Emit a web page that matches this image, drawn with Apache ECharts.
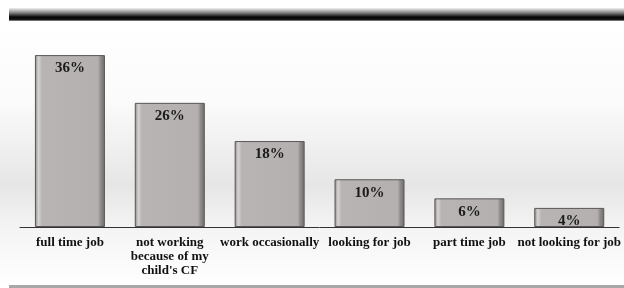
<!DOCTYPE html>
<html>
<head>
<meta charset="utf-8">
<script src="https://cdn.jsdelivr.net/npm/echarts@6/dist/echarts.min.js"></script>
<style>
  html, body { margin: 0; padding: 0; background: #fff; }
  #chart { width: 624px; height: 288px; }
</style>
</head>
<body>
<div id="chart"></div>
<script>
const categories = [
  "full time job",
  "not working\nbecause of my\nchild's CF",
  "work occasionally",
  "looking for job",
  "part time job",
  "not looking for job"
];
const percents = [36, 26, 18, 10, 6, 4];

const chart = echarts.init(document.getElementById("chart"));
const serif = "'Liberation Serif', 'DejaVu Serif', serif";

chart.setOption({
  animation: false,
  backgroundColor: "#fff",
  graphic: [
    // soft grey shading behind the bars
    {
      type: "rect",
      z: -10,
      shape: { x: 0, y: 22, width: 624, height: 264 },
      style: {
        fill: new echarts.graphic.LinearGradient(0, 0, 0, 1, [
          { offset: 0, color: "#ffffff" },
          { offset: 0.3, color: "#fbfbfb" },
          { offset: 0.62, color: "#e6e6e6" },
          { offset: 0.78, color: "#f4f4f4" },
          { offset: 1, color: "#ffffff" }
        ])
      }
    },
    // black bar at the top
    {
      type: "rect",
      shape: { x: 9, y: 8, width: 615, height: 13 },
      style: {
        fill: new echarts.graphic.LinearGradient(0, 0, 0, 1, [
          { offset: 0, color: "#f0f0f0" },
          { offset: 0.35, color: "#888888" },
          { offset: 0.7, color: "#050505" },
          { offset: 0.88, color: "#111111" },
          { offset: 1, color: "#9a9a9a" }
        ])
      }
    },
    // thin grey line at the bottom
    {
      type: "rect",
      shape: { x: 9, y: 285, width: 615, height: 3 },
      style: { fill: "#a8a8a8" }
    }
  ],
  grid: { left: 20, right: 4, top: 36, bottom: 61 },
  xAxis: {
    type: "category",
    data: categories,
    axisLine: { lineStyle: { color: "#333", width: 1 } },
    axisTick: { show: false },
    axisLabel: {
      interval: 0,
      margin: 9,
      color: "#111",
      fontFamily: serif,
      fontWeight: "bold",
      fontSize: 13,
      lineHeight: 14
    }
  },
  yAxis: {
    type: "value",
    min: 0,
    max: 40,
    show: false
  },
  series: [
    {
      type: "bar",
      data: percents,
      barWidth: 70,
      itemStyle: {
        color: new echarts.graphic.LinearGradient(1, 0, 0, 0, [
          { offset: 0, color: "#6e6a6a" },
          { offset: 0.06, color: "#8f8b8b" },
          { offset: 0.1, color: "#b4b0b0" },
          { offset: 0.9, color: "#b8b4b4" },
          { offset: 0.95, color: "#d6d3d3" },
          { offset: 1, color: "#8a8686" }
        ]),
        borderColor: "#5a5656",
        borderWidth: 1
      },
      label: {
        show: true,
        position: "insideTop",
        distance: 6,
        formatter: "{c}%",
        color: "#1a1a1a",
        fontFamily: serif,
        fontWeight: "bold",
        fontSize: 15
      }
    }
  ]
});
</script>
</body>
</html>
